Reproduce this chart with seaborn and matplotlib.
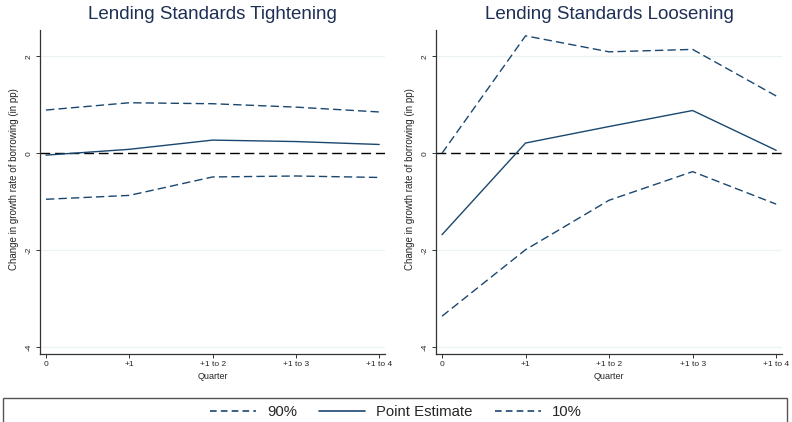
import matplotlib
matplotlib.use("Agg")
import matplotlib.pyplot as plt
from matplotlib.patches import Rectangle
from matplotlib.lines import Line2D
import numpy as np
import pandas as pd
import seaborn as sns

quarters = ["0", "+1", "+1 to 2", "+1 to 3", "+1 to 4"]

tight_p90 = [0.89, 1.04, 1.02, 0.95, 0.85]
tight_point = [-0.04, 0.08, 0.27, 0.24, 0.18]
tight_p10 = [-0.95, -0.87, -0.49, -0.47, -0.50]

loose_p90 = [0.0, 2.42, 2.09, 2.14, 1.18]
loose_point = [-1.68, 0.21, 0.55, 0.88, 0.06]
loose_p10 = [-3.36, -1.99, -0.97, -0.38, -1.05]

titles = ["Lending Standards Tightening", "Lending Standards Loosening"]
ylabel = "Change in growth rate of borrowing (in pp)"

line_col = "#1a476f"
title_col = "#1e2f55"
grid_col = "#eaf2f3"
dash_pat = (6, 3)

sns.set_theme(style="white")
plt.rcParams["font.family"] = ["Liberation Sans", "DejaVu Sans"]

fig = plt.figure(figsize=(7.92, 4.22), dpi=100)
ax_l = fig.add_axes([40 / 792, 1 - 354 / 422, 345 / 792, 324 / 422])
ax_r = fig.add_axes([436 / 792, 1 - 354 / 422, 346 / 792, 324 / 422])

panels = [
    (ax_l, tight_p90, tight_point, tight_p10),
    (ax_r, loose_p90, loose_point, loose_p10),
]

for i, (ax, p90, pt, p10) in enumerate(panels):
    df = pd.DataFrame({
        "q": np.arange(len(quarters)),
        "p90": p90, "pt": pt, "p10": p10,
    })
    for y in [2, -2, -4]:
        ax.axhline(y, color=grid_col, lw=0.9, zorder=0)
    ax.axhline(0, color="black", lw=1.0, ls=(0, (7, 3.5)), zorder=1)
    sns.lineplot(data=df, x="q", y="p90", ax=ax, color=line_col, lw=1.0,
                 linestyle=(0, dash_pat), zorder=2)
    sns.lineplot(data=df, x="q", y="pt", ax=ax, color=line_col, lw=1.0, zorder=3)
    sns.lineplot(data=df, x="q", y="p10", ax=ax, color=line_col, lw=1.0,
                 linestyle=(0, dash_pat), zorder=2)
    ax.set_xlim(-0.072, 4.07)
    ax.set_ylim(-4.14, 2.54)
    ax.set_xticks(range(len(quarters)))
    ax.set_xticklabels(quarters, fontsize=6)
    ax.set_yticks([-4, -2, 0, 2])
    ax.set_yticklabels(["-4", "-2", "0", "2"], fontsize=6, rotation=90, va="center")
    ax.set_xlabel("Quarter", fontsize=6.5, labelpad=3)
    ax.set_ylabel(ylabel, fontsize=7, labelpad=4)
    ax.yaxis.set_label_coords(-21 / 345, 0.54)
    ax.set_title(titles[i], fontsize=13.5, color=title_col, pad=8)
    for s in ["top", "right"]:
        ax.spines[s].set_visible(False)
    for s in ["left", "bottom"]:
        ax.spines[s].set_color("#333333")
        ax.spines[s].set_linewidth(0.9)
    ax.tick_params(axis="both", direction="out", length=3, width=0.7,
                   color="#333333", pad=2, left=True, bottom=True)

# framed legend strip along the bottom
fig.patches.append(Rectangle((3 / 792, -0.02), 784 / 792, 0.02 + 24 / 422,
                             transform=fig.transFigure, fill=False,
                             edgecolor="#555555", lw=1.0))
handles = [
    Line2D([], [], color=line_col, lw=1.2, linestyle=(0, (4, 2.5))),
    Line2D([], [], color=line_col, lw=1.2),
    Line2D([], [], color=line_col, lw=1.2, linestyle=(0, (4, 2.5))),
]
fig.legend(handles, ["90%", "Point Estimate", "10%"], loc="center",
           bbox_to_anchor=(0.5, 10 / 422), ncol=3, frameon=False,
           fontsize=10.7, handlelength=3.1, handletextpad=0.74, columnspacing=1.5)

fig.savefig("out.png", dpi=100, facecolor="white")
